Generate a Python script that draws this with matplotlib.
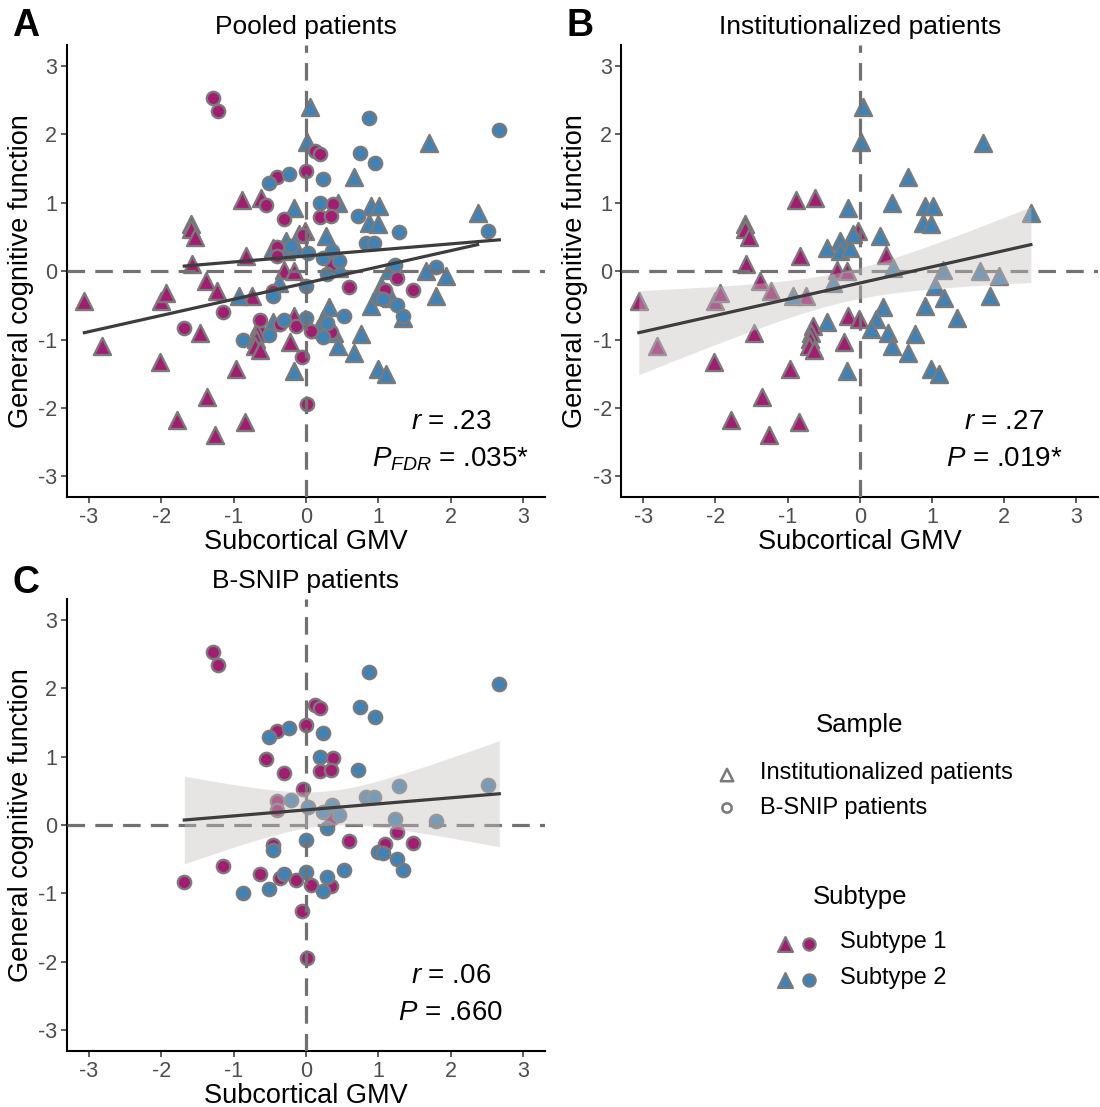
import numpy as np
import matplotlib
matplotlib.use('Agg')
import matplotlib.pyplot as plt

plt.rcParams['font.family'] = ['Liberation Sans', 'DejaVu Sans']
plt.rcParams['mathtext.fontset'] = 'custom'
plt.rcParams['mathtext.rm'] = 'Liberation Sans'
plt.rcParams['mathtext.it'] = 'Liberation Sans:italic'

# institutionalized patients (triangles)
inst_gmv = [-3.06, -2.81, -2.02, -2.00, -1.93, -1.78, -1.59, -1.59, -1.53, -1.58,
            -1.46, -1.38, -1.36, -1.26, -1.23, -0.97, -0.92, -0.88, -0.83, -0.84,
            -0.74, -0.62, -0.65, -0.67, -0.69, -0.70, -0.64, -0.46, -0.45, -0.37,
            -0.31, -0.28, -0.28, -0.22, -0.16, -0.16, -0.17, -0.17, -0.14, -0.09,
            -0.02, -0.01, 0.05, 0.02, 0.28, 0.37, 0.44, 0.46, 0.32, 0.23,
            0.16, 0.39, 0.44, 0.67, 0.67, 0.76, 0.90, 1.01, 0.87, 0.99,
            0.90, 1.04, 1.15, 1.17, 0.99, 1.10, 1.34, 1.70, 1.66, 1.80,
            1.93, 2.37]
inst_cog = [-0.44, -1.09, -1.33, -0.44, -0.32, -2.18, 0.68, 0.61, 0.49, 0.10,
            -0.91, -0.15, -1.84, -2.40, -0.29, -1.43, -0.37, 1.04, 0.22, -2.21,
            -0.37, 1.07, -0.80, -0.90, -0.99, -1.09, -1.16, 0.34, -0.74, -0.17,
            0.02, 0.44, 0.29, -1.04, 0.92, -0.66, 0.00, -1.46, 0.34, 0.54,
            0.58, -0.70, 2.40, 1.89, 0.51, 0.24, 0.99, 0.05, -0.53, -0.70,
            -0.85, -0.90, -1.09, 1.38, -1.19, -0.92, 0.95, 0.95, 0.70, 0.68,
            -0.51, -0.22, 0.02, -0.39, -1.43, -1.50, -0.68, 1.87, 0.00, -0.36,
            -0.07, 0.85]
inst_subtype = [1, 1, 1, 1, 1, 1, 1, 1, 1, 1,
                1, 1, 1, 1, 1, 1, 2, 1, 1, 1,
                1, 1, 1, 1, 1, 1, 1, 2, 2, 2,
                1, 2, 2, 1, 2, 1, 1, 2, 2, 2,
                1, 1, 2, 2, 2, 1, 2, 2, 2, 2,
                2, 2, 2, 2, 2, 2, 2, 2, 2, 2,
                2, 2, 2, 2, 2, 2, 2, 2, 2, 2,
                2, 2]

# B-SNIP patients (circles)
bsnip_gmv = [-1.28, -1.21, -0.51, -0.40, -0.24, 0.00, -0.55, -0.31, -0.04, -0.40,
             -0.40, -0.21, 0.03, -0.46, -0.45, 0.00, -1.15, -1.68, -0.87, -0.64,
             -0.51, -0.36, -0.30, -0.14, 0.00, 0.07, -0.05, 0.01, 0.87, 2.67,
             0.12, 0.19, 0.75, 0.95, 0.23, 0.19, 0.38, 0.19, 0.34, 0.72,
             0.24, 0.36, 0.36, 0.45, 0.83, 0.94, 1.29, 2.51, 0.29, 1.23,
             1.79, 0.59, 1.26, 0.99, 1.09, 1.07, 1.48, 1.26, 1.34, 0.53,
             0.29, 0.24, 0.34]
bsnip_cog = [2.52, 2.33, 1.29, 1.37, 1.42, 1.46, 0.96, 0.76, 0.53, 0.35,
             0.22, 0.37, 0.27, -0.29, -0.36, -0.22, -0.60, -0.83, -1.00, -0.71,
             -0.94, -0.78, -0.71, -0.80, -0.69, -0.88, -1.26, -1.94, 2.23, 2.06,
             1.75, 1.71, 1.73, 1.58, 1.34, 1.00, 0.98, 0.79, 0.80, 0.81,
             0.19, 0.29, 0.10, 0.15, 0.41, 0.41, 0.57, 0.59, -0.04, 0.09,
             0.06, -0.23, -0.10, -0.39, -0.28, -0.41, -0.27, -0.49, -0.66, -0.66,
             -0.76, -0.96, -0.89]
bsnip_subtype = [1, 1, 2, 1, 2, 1, 1, 1, 1, 1,
                 1, 2, 2, 1, 2, 2, 1, 1, 2, 1,
                 2, 1, 2, 1, 2, 1, 1, 1, 2, 2,
                 1, 1, 2, 2, 2, 2, 1, 1, 1, 2,
                 2, 2, 1, 2, 2, 2, 2, 2, 2, 2,
                 2, 1, 1, 2, 1, 2, 1, 2, 2, 2,
                 2, 2, 1]

panel_titles = ['Pooled patients', 'Institutionalized patients', 'B-SNIP patients']
panel_letters = ['A', 'B', 'C']
stat_r = ['$r$ = .23', '$r$ = .27', '$r$ = .06']
stat_p = ['$P_{FDR}$ = .035*', '$P$ = .019*', '$P$ = .660']
sample_labels = ['Institutionalized patients', 'B-SNIP patients']
subtype_labels = ['Subtype 1', 'Subtype 2']

SUB_COLORS = {1: '#A41C72', 2: '#3D83B7'}
EDGE = '#7a7a7a'
TICKS = [-3, -2, -1, 0, 1, 2, 3]
TRI_SIZE = 150
DOT_SIZE = 92


def draw_points(ax, x, y, sub, marker, size):
    x = np.asarray(x)
    y = np.asarray(y)
    sub = np.asarray(sub)
    for s in (1, 2):
        m = sub == s
        ax.scatter(x[m], y[m], marker=marker, s=size, c=SUB_COLORS[s],
                   edgecolors=EDGE, linewidths=1.7, zorder=2)


def draw_fit(ax, x, y, band=True):
    x = np.asarray(x)
    y = np.asarray(y)
    n = len(x)
    slope, icpt = np.polyfit(x, y, 1)
    xs = np.linspace(x.min(), x.max(), 100)
    ys = icpt + slope * xs
    if band:
        resid = y - (icpt + slope * x)
        s_err = np.sqrt(np.sum(resid ** 2) / (n - 2))
        se = s_err * np.sqrt(1.0 / n + (xs - x.mean()) ** 2 / np.sum((x - x.mean()) ** 2))
        tval = 1.99
        ax.fill_between(xs, ys - tval * se, ys + tval * se, color='#c6c0c0',
                        alpha=0.42, linewidth=0, zorder=4)
    ax.plot(xs, ys, color='#3d3d3d', lw=2.3, zorder=5)


def style_axes(ax, title, letter_xy, letter):
    ax.set_xlim(-3.3, 3.3)
    ax.set_ylim(-3.3, 3.3)
    ax.set_xticks(TICKS)
    ax.set_yticks(TICKS)
    ax.set_xticklabels([str(t) for t in TICKS])
    ax.set_yticklabels([str(t) for t in TICKS])
    for side in ('top', 'right'):
        ax.spines[side].set_visible(False)
    for side in ('left', 'bottom'):
        ax.spines[side].set_linewidth(1.5)
        ax.spines[side].set_color('black')
    ax.tick_params(length=4, width=1.1, labelsize=15.5, labelcolor='#4d4d4d',
                   color='#333333', pad=3)
    ax.axhline(0, color='#717171', lw=2.3, dashes=(5.5, 3.2), zorder=3)
    ax.axvline(0, color='#717171', lw=2.3, dashes=(5.5, 3.2), zorder=3)
    ax.set_xlabel('Subcortical GMV', fontsize=19.5, labelpad=1)
    ax.set_ylabel('General cognitive function', fontsize=19.5, labelpad=3)
    ax.set_title(title, fontsize=19, pad=8)
    fig.text(letter_xy[0], letter_xy[1], letter, fontsize=27, fontweight='bold',
             ha='left', va='center')


fig = plt.figure(figsize=(11, 11.07), dpi=100)
ax_a = fig.add_axes([0.0609, 0.551, 0.4345, 0.4083])
ax_b = fig.add_axes([0.565, 0.551, 0.4332, 0.4083])
ax_c = fig.add_axes([0.0609, 0.0506, 0.4345, 0.4083])

# A: pooled, both samples with their own fit lines
draw_points(ax_a, inst_gmv, inst_cog, inst_subtype, '^', TRI_SIZE)
draw_points(ax_a, bsnip_gmv, bsnip_cog, bsnip_subtype, 'o', DOT_SIZE)
draw_fit(ax_a, inst_gmv, inst_cog, band=False)
draw_fit(ax_a, bsnip_gmv, bsnip_cog, band=False)

# B: institutionalized only
draw_points(ax_b, inst_gmv, inst_cog, inst_subtype, '^', TRI_SIZE)
draw_fit(ax_b, inst_gmv, inst_cog)

# C: B-SNIP only
draw_points(ax_c, bsnip_gmv, bsnip_cog, bsnip_subtype, 'o', DOT_SIZE)
draw_fit(ax_c, bsnip_gmv, bsnip_cog)

letter_pos = [(0.011, 1 - 26 / 1107), (0.515, 1 - 26 / 1107), (0.011, 1 - 583 / 1107)]
for i, ax in enumerate([ax_a, ax_b, ax_c]):
    style_axes(ax, panel_titles[i], letter_pos[i], panel_letters[i])
    ax.text(2.0, -2.2, stat_r[i], fontsize=20, ha='center', va='center', zorder=6)
    ax.text(2.0, -2.75, stat_p[i], fontsize=20, ha='center', va='center', zorder=6)

# legend drawn by hand in pixel coordinates
leg = fig.add_axes([0, 0, 1, 1], zorder=-1)
leg.set_xlim(0, 1100)
leg.set_ylim(1107, 0)
leg.axis('off')

leg.text(860, 725, 'Sample', fontsize=18.5, ha='center', va='center')
leg.scatter([727], [775], marker='^', s=80, facecolors='none', edgecolors=EDGE, linewidths=1.8)
leg.scatter([727], [808], marker='o', s=45, facecolors='none', edgecolors=EDGE, linewidths=1.8)
leg.text(760, 773, sample_labels[0], fontsize=17, ha='left', va='center')
leg.text(760, 808, sample_labels[1], fontsize=17, ha='left', va='center')

leg.text(860, 897, 'Subtype', fontsize=18.5, ha='center', va='center')
for k, s in enumerate((1, 2)):
    yy = 944 + 36 * k
    leg.scatter([785], [yy], marker='^', s=115, c=SUB_COLORS[s], edgecolors=EDGE, linewidths=1.6)
    leg.scatter([809], [yy], marker='o', s=78, c=SUB_COLORS[s], edgecolors=EDGE, linewidths=1.6)
    leg.text(840, yy - 2, subtype_labels[k], fontsize=17, ha='left', va='center')

fig.savefig('out.png', dpi=100)
